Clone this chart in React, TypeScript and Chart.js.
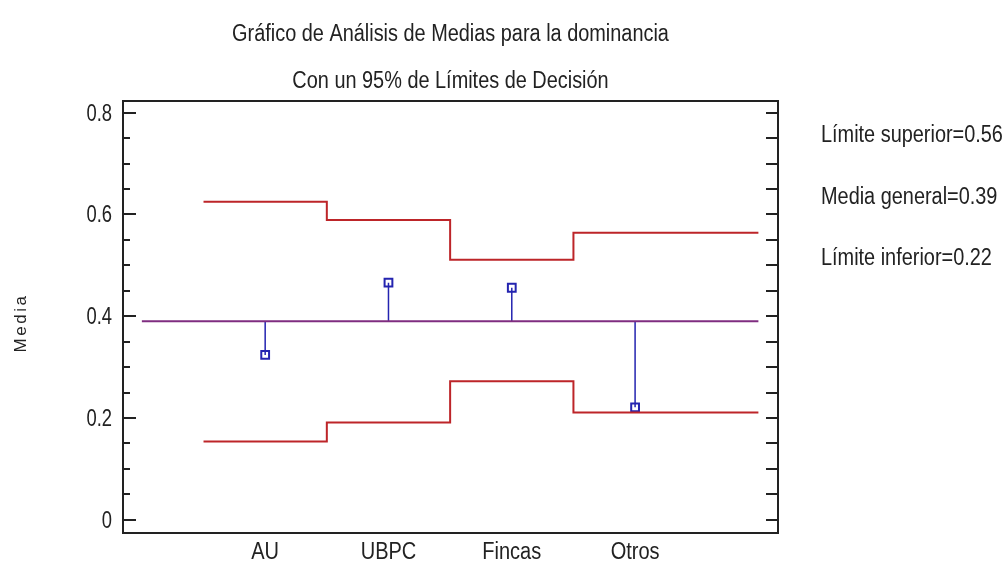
import React, { useEffect, useRef } from 'react';
import { Chart, registerables } from 'chart.js';
Chart.register(...registerables);

const categories = ['AU', 'UBPC', 'Fincas', 'Otros'];
const categoryPositions = [1, 2, 3, 4];
const groupMeans = [0.324, 0.466, 0.456, 0.221];
const upperLimits = [0.625, 0.589, 0.511, 0.564];
const lowerLimits = [0.154, 0.191, 0.272, 0.211];
const grandMean = 0.39;
const stepEdges = [0.5, 1.5, 2.5, 3.5, 5.0];
const meanLineRange = [0, 5];
const yMajorTicks = [0, 0.2, 0.4, 0.6, 0.8];
const yMajorTickLabels = ['0', '0.2', '0.4', '0.6', '0.8'];
const yMinorTicks = [0.05, 0.1, 0.15, 0.25, 0.3, 0.35, 0.45, 0.5, 0.55, 0.65, 0.7, 0.75];
const titleLines = ['Gráfico de Análisis de Medias para la dominancia', 'Con un 95% de Límites de Decisión'];
const legendLines = ['Límite superior=0.56', 'Media general=0.39', 'Límite inferior=0.22'];
const yAxisTitle = 'Media';

const FONT = '"Liberation Sans", Arial, sans-serif';
const RED = '#bd2529';
const BLUE = '#2424b0';
const PURPLE = '#7f2d80';
const INK = '#222222';

function stepData(limits: number[]) {
  return stepEdges.map((x, i) => ({ x, y: limits[Math.min(i, limits.length - 1)] }));
}

function condensed(ctx: CanvasRenderingContext2D, text: string, x: number, y: number, align: CanvasTextAlign, sx: number) {
  ctx.save();
  ctx.translate(x, y);
  ctx.scale(sx, 1);
  ctx.textAlign = align;
  ctx.textBaseline = 'alphabetic';
  ctx.fillText(text, 0, 0);
  ctx.restore();
}

const decorPlugin = {
  id: 'decor',
  afterDraw(chart: any) {
    const ctx = chart.ctx as CanvasRenderingContext2D;
    const a = chart.chartArea;
    const ys = chart.scales.y;
    const xs = chart.scales.x;
    ctx.save();
    // frame
    ctx.strokeStyle = INK;
    ctx.lineWidth = 2;
    ctx.strokeRect(a.left, a.top, a.right - a.left, a.bottom - a.top);
    // inward ticks
    const drawTick = (v: number, leftLen: number, rightLen: number) => {
      const y = Math.round(ys.getPixelForValue(v));
      ctx.beginPath();
      ctx.moveTo(a.left, y);
      ctx.lineTo(a.left + leftLen, y);
      ctx.moveTo(a.right, y);
      ctx.lineTo(a.right - rightLen, y);
      ctx.stroke();
    };
    yMajorTicks.forEach((v) => drawTick(v, 13, 12));
    yMinorTicks.forEach((v) => drawTick(v, 7, 12));

    ctx.fillStyle = INK;
    ctx.font = `23px ${FONT}`;
    // y tick labels
    yMajorTicks.forEach((v, i) => {
      const y = ys.getPixelForValue(v);
      condensed(ctx, yMajorTickLabels[i], 112, y + 8, 'right', 0.8);
    });
    // x tick labels
    categoryPositions.forEach((v, i) => {
      const x = xs.getPixelForValue(v);
      condensed(ctx, categories[i], x, 559, 'center', 0.87);
    });
    // titles
    const cx = (a.left + a.right) / 2;
    condensed(ctx, titleLines[0], cx, 41, 'center', 0.865);
    condensed(ctx, titleLines[1], cx, 88, 'center', 0.865);
    // legend texts
    const legendBaselines = [142, 204, 265];
    legendLines.forEach((t, i) => condensed(ctx, t, 821, legendBaselines[i], 'left', 0.865));
    // y axis title
    ctx.save();
    ctx.translate(21, 323);
    ctx.rotate(-Math.PI / 2);
    ctx.font = `17px ${FONT}`;
    (ctx as any).letterSpacing = '2.5px';
    ctx.textAlign = 'center';
    ctx.textBaseline = 'middle';
    ctx.fillText(yAxisTitle, 0, 0);
    ctx.restore();
    ctx.restore();
  },
};

export default function App() {
  const ref = useRef<HTMLCanvasElement | null>(null);
  useEffect(() => {
    const canvas = ref.current;
    if (!canvas) return;
    const chart = new Chart(canvas, {
      type: 'line',
      data: {
        datasets: [
          {
            label: 'upper',
            data: stepData(upperLimits),
            borderColor: RED,
            borderWidth: 2,
            stepped: true,
            pointRadius: 0,
          },
          {
            label: 'lower',
            data: stepData(lowerLimits),
            borderColor: RED,
            borderWidth: 2,
            stepped: true,
            pointRadius: 0,
          },
          {
            label: 'grand',
            data: meanLineRange.map((x) => ({ x, y: grandMean })),
            borderColor: PURPLE,
            borderWidth: 2,
            pointRadius: 0,
          },
          {
            label: 'stems',
            data: categoryPositions.flatMap((x, i) => [
              { x, y: grandMean },
              { x, y: groupMeans[i] },
              { x, y: null as any },
            ]),
            borderColor: BLUE,
            borderWidth: 1.5,
            pointRadius: 0,
            spanGaps: false,
          },
          {
            label: 'means',
            data: categoryPositions.map((x, i) => ({ x, y: groupMeans[i] })),
            showLine: false,
            pointStyle: 'rect',
            pointRadius: 5.5,
            pointBorderWidth: 2,
            pointBorderColor: BLUE,
            pointBackgroundColor: 'rgba(0,0,0,0)',
          },
        ],
      },
      options: {
        animation: false,
        responsive: false,
        events: [],
        layout: { padding: { left: 0, top: 101, right: 225, bottom: 0 } },
        plugins: { legend: { display: false }, tooltip: { enabled: false }, title: { display: false } },
        scales: {
          x: {
            type: 'linear',
            min: -0.153,
            max: 5.159,
            grid: { display: false, drawTicks: false },
            border: { display: false },
            afterBuildTicks: (s: any) => {
              s.ticks = categoryPositions.map((v) => ({ value: v }));
            },
            afterFit: (s: any) => {
              s.height = 37;
            },
            ticks: { display: false },
          },
          y: {
            type: 'linear',
            min: -0.026,
            max: 0.823,
            grid: { display: false, drawTicks: false },
            border: { display: false },
            afterBuildTicks: (s: any) => {
              s.ticks = yMajorTicks.map((v) => ({ value: v }));
            },
            afterFit: (s: any) => {
              s.width = 123;
            },
            ticks: { display: false },
          },
        },
      },
      plugins: [decorPlugin],
    } as any);
    return () => chart.destroy();
  }, []);
  return (
    <div style={{ position: 'absolute', left: 0, top: 0, width: 1003, height: 570, background: '#fff' }}>
      <canvas ref={ref} width={1003} height={570} style={{ display: 'block', width: 1003, height: 570 }} />
    </div>
  );
}
